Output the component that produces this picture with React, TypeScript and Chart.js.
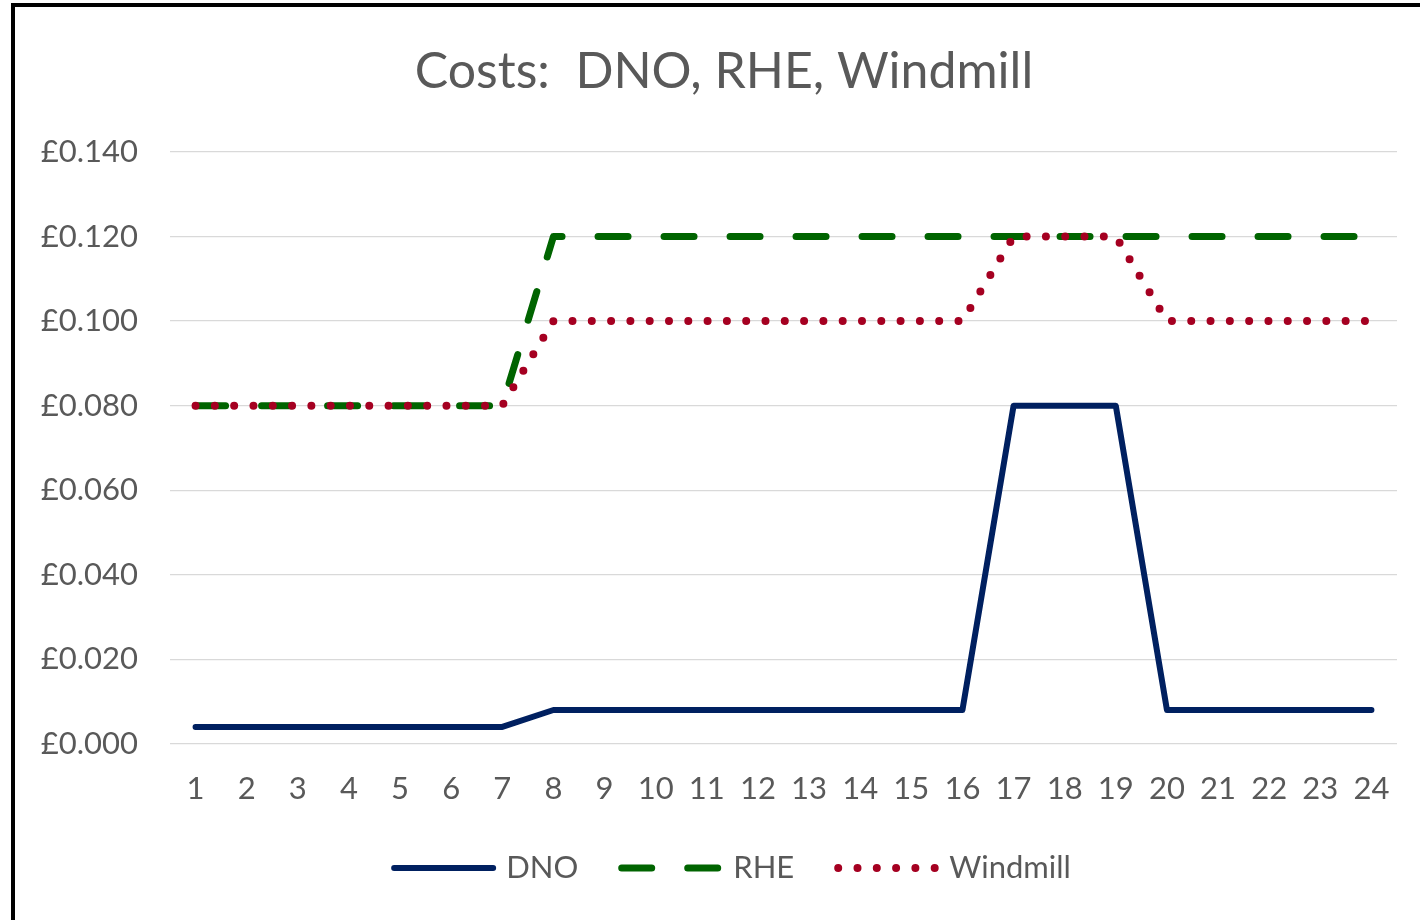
import React, { useEffect, useRef } from "react";
import { Chart, registerables } from "chart.js";

Chart.register(...registerables);

const categories = ["1","2","3","4","5","6","7","8","9","10","11","12","13","14","15","16","17","18","19","20","21","22","23","24"];
const dnoValues = [0.004,0.004,0.004,0.004,0.004,0.004,0.004,0.008,0.008,0.008,0.008,0.008,0.008,0.008,0.008,0.008,0.08,0.08,0.08,0.008,0.008,0.008,0.008,0.008];
const rheValues = [0.08,0.08,0.08,0.08,0.08,0.08,0.08,0.12,0.12,0.12,0.12,0.12,0.12,0.12,0.12,0.12,0.12,0.12,0.12,0.12,0.12,0.12,0.12,0.12];
const windmillValues = [0.08,0.08,0.08,0.08,0.08,0.08,0.08,0.1,0.1,0.1,0.1,0.1,0.1,0.1,0.1,0.1,0.12,0.12,0.12,0.1,0.1,0.1,0.1,0.1];
const seriesNames = ["DNO", "RHE", "Windmill"];
const titleText = "Costs:  DNO, RHE, Windmill";

const FONT = "Lato, 'Open Sans', sans-serif";
const TEXT = "#595959";

const titleLegendPlugin = {
  id: "titleLegend",
  afterDraw(chart: any) {
    const ctx = chart.ctx as CanvasRenderingContext2D;
    ctx.save();
    // title
    ctx.font = `50px ${FONT}`;
    ctx.fillStyle = TEXT;
    ctx.textAlign = "center";
    ctx.textBaseline = "middle";
    ctx.fillText(titleText, 709, 72);

    // legend
    const fontSize = 31;
    const lineLen = 104;
    const gap = 11;
    const spacing = 40;
    const cy = 868;
    const centerX = 716;
    ctx.font = `${fontSize}px ${FONT}`;
    const datasets = chart.data.datasets;
    const widths = datasets.map((d: any) => lineLen + gap + ctx.measureText(d.label).width);
    const total = widths.reduce((a: number, b: number) => a + b, 0) + spacing * (datasets.length - 1);
    let x = centerX - total / 2;
    datasets.forEach((d: any, i: number) => {
      const lw = d.borderWidth;
      ctx.beginPath();
      ctx.lineWidth = lw;
      ctx.strokeStyle = d.borderColor;
      ctx.lineCap = d.borderCapStyle || "butt";
      ctx.setLineDash(d.borderDash || []);
      ctx.moveTo(x + lw / 2, cy);
      ctx.lineTo(x + lineLen - lw / 2 + 1, cy);
      ctx.stroke();
      ctx.setLineDash([]);
      ctx.fillStyle = TEXT;
      ctx.textAlign = "left";
      ctx.textBaseline = "middle";
      ctx.fillText(d.label, x + lineLen + gap, cy);
      x += widths[i] + spacing;
    });
    ctx.restore();
  },
};

export default function App() {
  const ref = useRef<HTMLCanvasElement | null>(null);
  useEffect(() => {
    if (!ref.current) return;
    const chart = new Chart(ref.current, {
      type: "line",
      data: {
        labels: categories,
        datasets: [
          {
            label: seriesNames[0],
            data: dnoValues,
            borderColor: "#002060",
            backgroundColor: "#002060",
            borderWidth: 6,
            borderCapStyle: "round",
            borderJoinStyle: "round",
            pointRadius: 0,
            tension: 0,
            order: 2,
          },
          {
            label: seriesNames[1],
            data: rheValues,
            borderColor: "#006400",
            backgroundColor: "#006400",
            borderWidth: 7,
            borderDash: [30, 36],
            borderCapStyle: "round",
            borderJoinStyle: "round",
            pointRadius: 0,
            tension: 0,
            order: 1,
          },
          {
            label: seriesNames[2],
            data: windmillValues,
            borderColor: "#A50021",
            backgroundColor: "#A50021",
            borderWidth: 8,
            borderDash: [0, 19.3],
            borderCapStyle: "round",
            borderJoinStyle: "round",
            pointRadius: 0,
            tension: 0,
            order: 0,
          },
        ],
      },
      options: {
        animation: false,
        responsive: false,
        maintainAspectRatio: false,
        layout: { padding: { left: 20, right: 43, top: 152, bottom: 85 } },
        plugins: {
          tooltip: { enabled: false },
          legend: { display: false },
          title: { display: false },
        },
        scales: {
          x: {
            offset: true,
            grid: { display: false, drawTicks: false },
            border: { display: false },
            ticks: {
              color: TEXT,
              font: { family: FONT, size: 31 },
              padding: 27,
              maxRotation: 0,
              autoSkip: false,
            },
          },
          y: {
            min: 0,
            max: 0.14,
            afterFit: (scale: any) => {
              scale.width = 135;
            },
            grid: { color: "#d9d9d9", lineWidth: 1.3, drawTicks: false },
            border: { display: false },
            ticks: {
              stepSize: 0.02,
              color: TEXT,
              font: { family: FONT, size: 31 },
              padding: 32,
              callback: (v: any) => "£" + Number(v).toFixed(3),
            },
          },
        },
      },
      plugins: [titleLegendPlugin],
    });
    return () => chart.destroy();
  }, []);

  return (
    <div style={{ position: "absolute", left: 0, top: 0, width: 1420, height: 920, overflow: "hidden", background: "#fff" }}>
      <div style={{ position: "absolute", left: 15, top: 0, width: 1425, height: 920 }}>
        <canvas ref={ref} width={1425} height={920} style={{ width: 1425, height: 920, display: "block" }} />
      </div>
      <div
        style={{
          position: "absolute",
          left: 11,
          top: 3,
          width: 1440,
          height: 940,
          borderLeft: "4px solid #000",
          borderTop: "4px solid #000",
          pointerEvents: "none",
        }}
      />
    </div>
  );
}
